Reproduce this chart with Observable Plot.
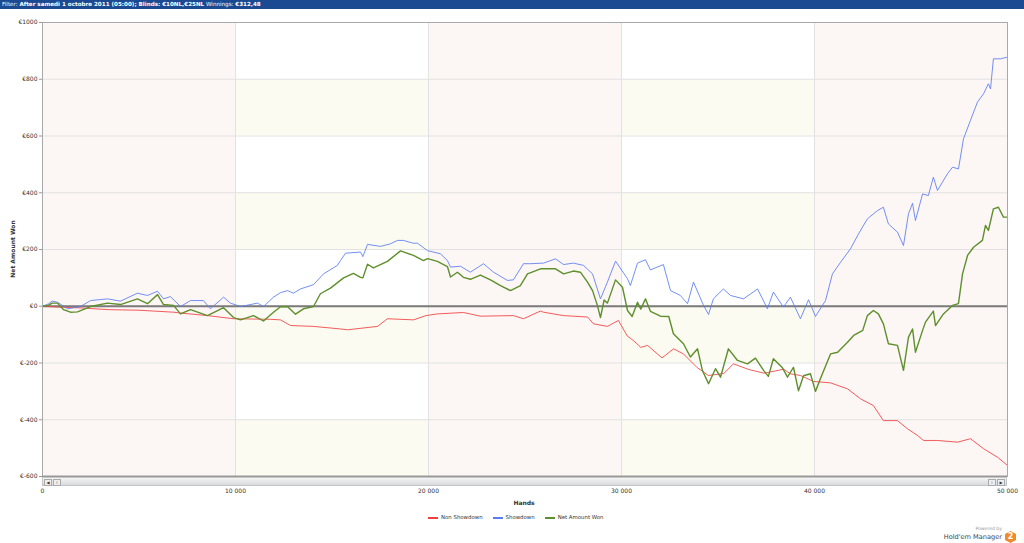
<!DOCTYPE html>
<html>
<head>
<meta charset="utf-8">
<script src="https://cdn.jsdelivr.net/npm/d3@7"></script>
<script src="https://cdn.jsdelivr.net/npm/@observablehq/plot@0.6"></script>
<style>
  html, body { margin: 0; padding: 0; background: #fff; }
  #page { position: relative; width: 1024px; height: 543px; overflow: hidden; font-family: "DejaVu Sans", Verdana, sans-serif; }
  #header { position: absolute; left: 0; top: 0; width: 1024px; height: 9px; background: #1b4a92; color: #fff; font-size: 5.6px; line-height: 9px; padding-left: 2px; box-sizing: border-box; white-space: nowrap; }
  #header b { font-weight: bold; }
  #chart { position: absolute; left: 0; top: 10px; }
  #ylabel { position: absolute; left: 12px; top: 249px; transform: translate(-50%, -50%) rotate(-90deg); font-size: 6px; font-weight: bold; color: #333; white-space: nowrap; }
  #xlabel { position: absolute; left: 524px; top: 502px; transform: translate(-50%, -50%); font-size: 6px; font-weight: bold; color: #333; }
  #scroll { position: absolute; left: 42px; top: 477px; width: 965px; height: 9px; box-sizing: border-box; background: linear-gradient(#f4f4f4, #d8dadc); border: 1px solid #c4c6c8; }
  .btn { position: absolute; top: 1px; width: 6px; height: 5px; background: #eee; border: 1px solid #aaa; font-size: 4px; line-height: 5px; text-align: center; color: #333; }
  #legend { position: absolute; left: 428px; top: 514px; display: flex; gap: 10px; font-size: 5.4px; color: #333; align-items: center; }
  #legend span.sw { display: inline-block; width: 10px; height: 2px; margin-right: 3px; vertical-align: middle; }
  #logo { position: absolute; right: 8px; top: 526px; text-align: right; }
  #logo .pb { font-size: 4.6px; color: #999; margin-right: 14px; }
  #logo .nm { font-size: 6.6px; color: #444; display: flex; align-items: center; gap: 3px; }
  #logo .hex { width: 11px; height: 12px; background: #f08a2c; clip-path: polygon(50% 0, 100% 25%, 100% 75%, 50% 100%, 0 75%, 0 25%); color: #fff; font-size: 8px; font-weight: bold; line-height: 12px; text-align: center; }
</style>
</head>
<body>
<div id="page">
  <div id="header">Filter: <b>After samedi 1 octobre 2011 (05:00); Blinds: €10NL,€25NL</b> Winnings: <b>€312,48</b></div>
  <div id="chart"></div>
  <div id="ylabel">Net Amount Won</div>
  <div id="scroll">
    <div class="btn" style="left:1px">◀</div><div class="btn" style="left:10px">⁞</div>
    <div class="btn" style="right:10px">⁞</div><div class="btn" style="right:1px">▶</div>
  </div>
  <div id="xlabel">Hands</div>
  <div id="legend">
    <div><span class="sw" style="background:#f2403f"></span>Non Showdown</div>
    <div><span class="sw" style="background:#5b7cf0"></span>Showdown</div>
    <div><span class="sw" style="background:#5e8f2c"></span>Net Amount Won</div>
  </div>
  <div id="logo">
    <div class="pb">Powered by</div>
    <div class="nm">Hold'em Manager <div class="hex">2</div></div>
  </div>
</div>
<script>
// Tick values
const xTicks = [0, 10000, 20000, 30000, 40000, 50000];
const yTicks = [1000, 800, 600, 400, 200, 0, -200, -400, -600];

// Non Showdown (red)
const nsHands = [
  0,800,2000,3400,5000,6800,7150,8550,9900,11800,
  12330,12850,14040,15440,15800,17360,17870,19220,19870,20460,
  21810,22690,24400,24920,25800,25960,27000,28240,28550,29270,
  29840,30300,30620,31000,31350,32100,32700,33210,33900,34500,
  35300,35800,36600,37400,38400,38750,39270,39950,40830,41710,
  42380,43050,43570,44300,44820,45330,45650,46370,47410,48080,
  48760,49480,50000];
const nsWon = [
  0,-3,-6,-12,-14,-21,-24,-33,-44,-46,
  -48,-68,-71,-80,-83,-71,-44,-48,-33,-27,
  -22,-35,-33,-44,-17,-21,-33,-38,-62,-71,
  -50,-105,-121,-145,-138,-182,-150,-168,-215,-244,
  -237,-203,-223,-236,-222,-238,-244,-265,-270,-291,
  -326,-350,-403,-403,-432,-455,-473,-473,-479,-467,
  -502,-532,-561];

// Showdown (blue)
const sdHands = [
  0,300,500,780,1300,1970,2490,3370,4040,4920,
  5440,5960,6270,6630,7150,7670,8340,8700,9380,9740,
  10260,11140,11450,11970,12330,12700,13000,13370,14040,14560,
  15280,15440,15700,16480,16600,16840,17510,18030,18390,18700,
  19220,19430,19950,20620,20980,21140,21660,22170,22850,23370,
  24090,24400,24920,25280,25960,26580,27000,27510,28030,28500,
  28910,29270,29690,30310,30460,30830,31240,31500,32170,32540,
  33050,33420,33730,34250,34510,34760,35280,35650,36320,37050,
  37560,37870,38390,38750,39270,39690,40050,40570,40930,41350,
  41860,42280,42740,43260,43570,43830,44300,44610,44870,45080,
  45230,45600,45900,46160,46370,46890,47150,47460,47720,48080,
  48440,48760,49010,49120,49270,49640,50000];
const sdWon = [
  0,8,18,14,-9,-1,20,26,18,46,
  38,53,26,34,-1,20,20,-9,32,11,
  -1,11,-1,32,48,55,46,61,76,114,
  144,161,187,191,175,218,211,220,232,232,
  222,222,196,185,161,138,141,120,150,120,
  91,93,150,150,152,167,147,152,144,114,
  26,85,159,97,73,152,164,128,147,55,
  38,9,85,3,-29,26,61,38,26,61,
  -9,50,-3,32,-44,23,-36,20,114,155,
  202,255,308,337,349,290,261,214,326,363,
  302,396,390,455,408,467,490,484,590,655,
  719,749,784,766,872,872,878];

// Net Amount Won (green)
const netHands = [
  0,300,500,780,1090,1450,1810,2490,3370,4040,
  4920,5440,5960,6270,6790,7150,7670,8550,9380,9900,
  10260,10930,11450,11970,12330,12700,13110,13520,14040,14400,
  14920,15600,16110,16480,16600,16840,17150,17870,18550,19220,
  19740,19950,20460,20980,21140,21500,21810,22170,22690,23210,
  23730,24250,24760,25130,25800,26580,27000,27510,27870,28240,
  28500,28750,28910,29100,29270,29690,30050,30310,30550,30830,
  31000,31240,31500,32020,32450,32690,33210,33570,33940,34190,
  34510,34870,35130,35540,36010,36530,36940,37360,37610,37870,
  38340,38600,38910,39170,39430,39790,40050,40310,40830,41200,
  41710,42030,42500,42740,43050,43310,43570,43830,44300,44610,
  44870,45080,45230,45600,45750,46160,46270,46680,47150,47460,
  47670,47930,48240,48700,48860,49010,49270,49530,49790,50000];
const netWon = [
  0,3,11,11,-12,-21,-20,-1,11,6,
  26,9,41,6,3,-27,-12,-33,-5,-40,
  -48,-33,-52,-21,-2,-2,-28,-9,-1,44,
  64,100,116,102,100,148,135,158,195,179,
  161,168,158,140,103,120,102,95,110,93,
  73,55,73,114,132,132,114,124,120,85,
  55,3,-40,22,11,93,67,-15,-36,14,
  -10,26,-18,-35,-36,-97,-132,-179,-150,-226,
  -273,-220,-250,-150,-191,-203,-183,-226,-247,-185,
  -217,-250,-215,-298,-245,-238,-300,-255,-168,-162,
  -127,-103,-85,-33,-15,-27,-62,-132,-138,-226,
  -109,-80,-162,-85,-56,-17,-68,-27,3,9,
  114,179,208,232,285,267,343,349,314,314];

const xMin = xTicks[0], xMax = xTicks[xTicks.length - 1];
const yMin = yTicks[yTicks.length - 1], yMax = yTicks[0];

// alternate horizontal bands (800..600, 400..200, 0..-200, -400..-600)
const hBands = [];
for (let i = 1; i + 1 < yTicks.length; i += 2) hBands.push({y1: yTicks[i], y2: yTicks[i + 1]});
// alternate vertical bands (0..10k, 20k..30k, 40k..50k)
const vBands = [];
for (let i = 0; i + 1 < xTicks.length; i += 2) vBands.push({x1: xTicks[i], x2: xTicks[i + 1]});

const fmtX = v => d3.format(",")(v).replace(/,/g, " ");

const chart = Plot.plot({
  width: 1024,
  height: 500,
  marginTop: 12,
  marginBottom: 34,
  marginLeft: 42,
  marginRight: 17,
  style: {fontFamily: "DejaVu Sans, Verdana, sans-serif", fontSize: "6px", color: "#333", background: "transparent"},
  x: {domain: [xMin, xMax]},
  y: {domain: [yMin, yMax]},
  marks: [
    Plot.rect(hBands, {x1: xMin, x2: xMax, y1: "y1", y2: "y2", fill: "#fbfbf1"}),
    Plot.rect(vBands, {x1: "x1", x2: "x2", y1: yMin, y2: yMax, fill: "#fcf6f5"}),
    Plot.ruleY(yTicks, {stroke: "#e2e2e2", strokeWidth: 1}),
    Plot.ruleX(xTicks, {stroke: "#e2e2e2", strokeWidth: 1}),
    Plot.ruleY([0], {stroke: "#7a7a7a", strokeWidth: 2}),
    Plot.line(nsWon, {x: nsHands, y: nsWon, stroke: "#f2403f", strokeWidth: 1, strokeOpacity: 0.85}),
    Plot.line(sdWon, {x: sdHands, y: sdWon, stroke: "#5b7cf0", strokeWidth: 1, strokeOpacity: 0.85}),
    Plot.line(netWon, {x: netHands, y: netWon, stroke: "#5e8f2c", strokeWidth: 1.4}),
    Plot.frame({stroke: "#a9a9a9", strokeWidth: 1}),
    Plot.ruleY([yMin], {stroke: "#999", strokeWidth: 2}),
    Plot.axisY({ticks: yTicks, tickFormat: d => "€" + d, tickSize: 3, tickPadding: 2, label: null, stroke: "#999"}),
    Plot.axisX({ticks: xTicks, tickFormat: fmtX, tickSize: 0, tickPadding: 12, label: null})
  ]
});
document.getElementById("chart").appendChild(chart);
</script>
</body>
</html>
